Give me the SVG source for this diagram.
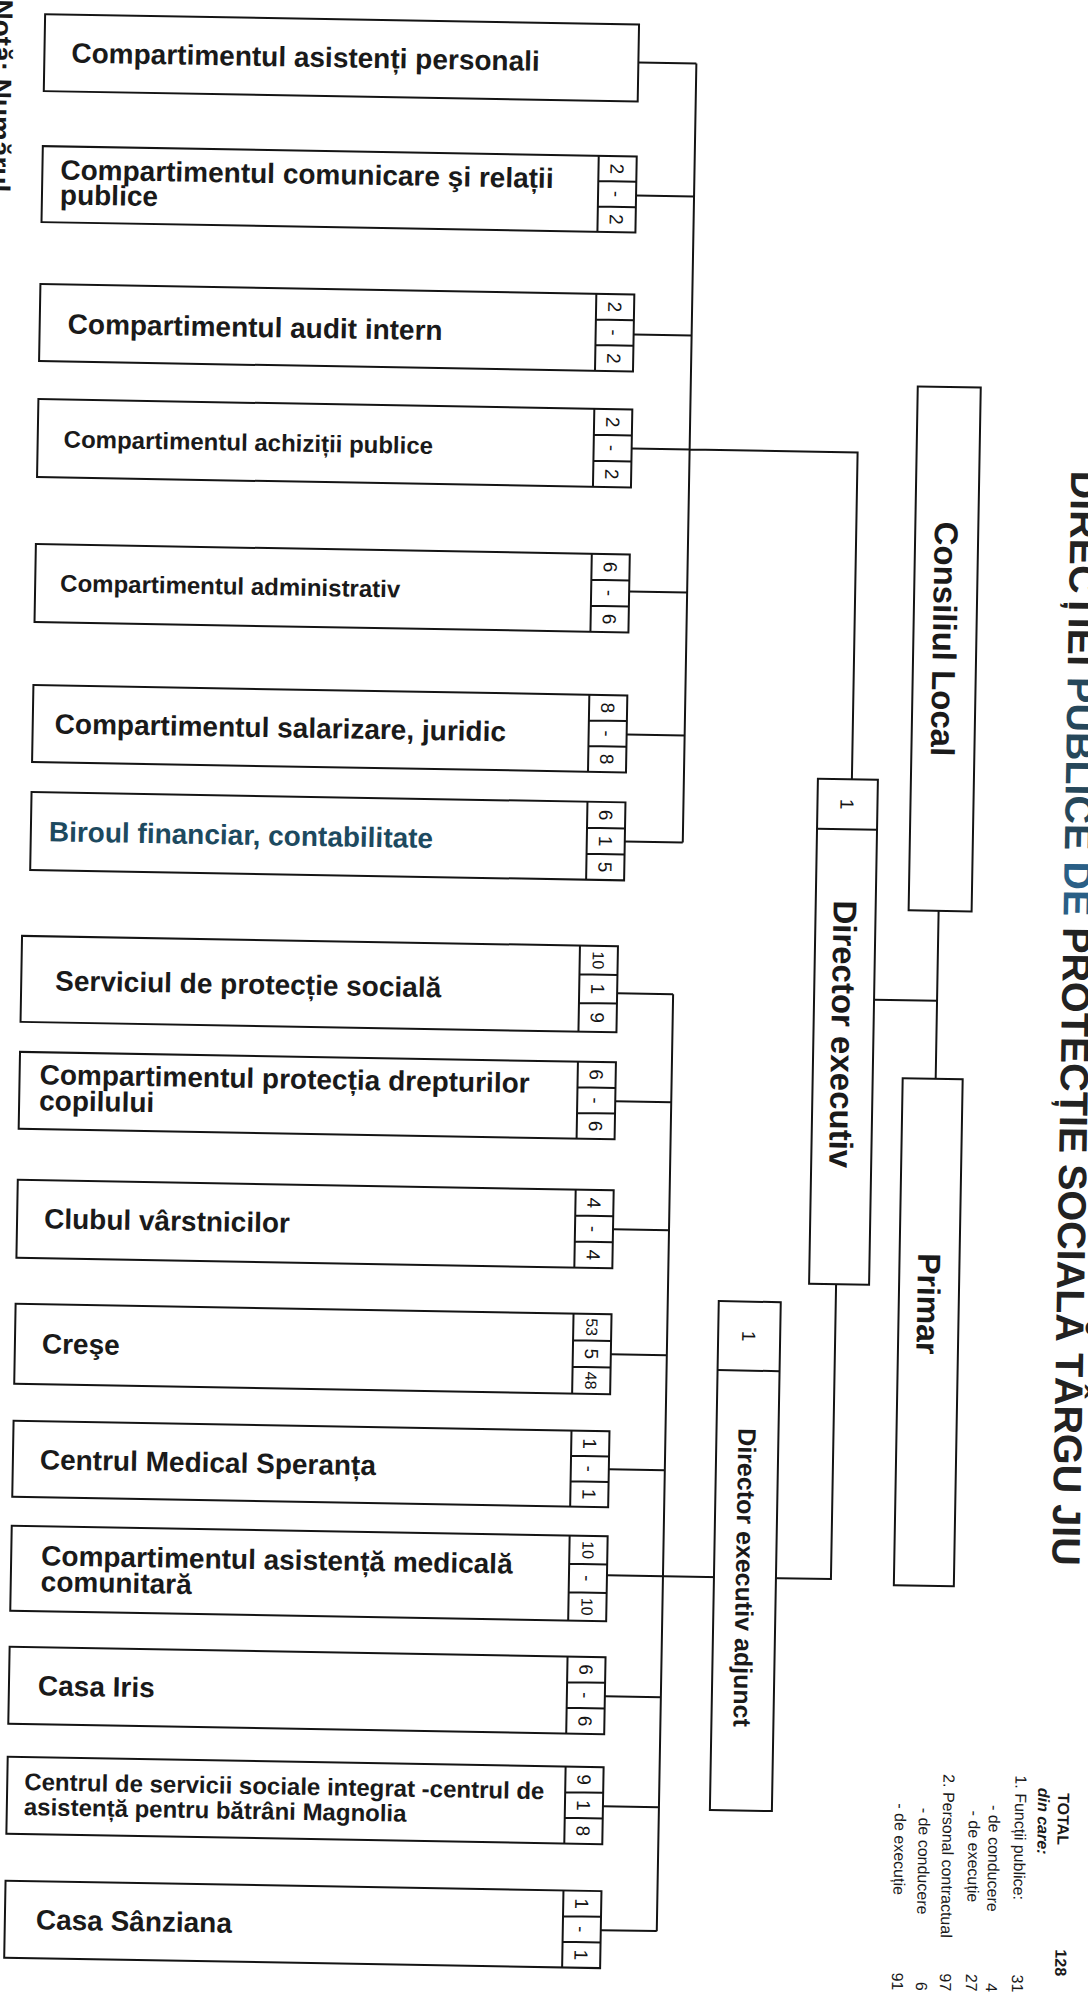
<svg xmlns="http://www.w3.org/2000/svg" width="1088" height="1999" viewBox="0 0 1088 1999">
<style>
.box{fill:#fff;stroke:#141414;stroke-width:2}
.ln{fill:none;stroke:#141414;stroke-width:2}
.lbl{font-family:"Liberation Sans",Arial,sans-serif;font-weight:bold;font-size:28px;fill:#1a1a1a}
.sm{font-size:24px}
.teal{fill:#1d4a5f}
.cnt{font-family:"Liberation Sans",Arial,sans-serif;font-size:19px;fill:#141414;text-anchor:middle}
.c2{font-size:16px}
.vt{font-family:"Liberation Sans",Arial,sans-serif;font-weight:bold;fill:#1a1a1a;text-anchor:middle}
.lg{font-family:"Liberation Sans",Arial,sans-serif;font-size:16px;fill:#1a1a1a}
.num{text-anchor:end}
</style>
<rect width="1088" height="1999" fill="#fff"/>
<g transform="rotate(1 544 1000)">
<text transform="translate(-24,9) rotate(90)" class="lbl">Notă: Numărul</text>
<text transform="translate(1062,1009) rotate(90)" text-anchor="middle" style="font-family:'Liberation Sans',Arial,sans-serif;font-weight:bold;font-size:39.5px;fill:#222">DIRECȚIEI <tspan fill="#26475a">PUBLICE</tspan> <tspan fill="#2a5f86">DE</tspan> PROTECȚIE SOCIALĂ TÂRGU JIU</text>

<g id="connectors">
<path class="ln" d="M622,61H680M622,194H680M622,333H680M622,447H848V774M622,590H680M622,733H680M622,840H680M680,61V840"/>
<path class="ln" d="M617,992H673M617,1100H673M617,1228H673M617,1353H673M617,1468H673M617,1574H841V1279M617,1695H673M617,1805H673M617,1929H673M673,992V1929"/>
<path class="ln" d="M874,994H937M937,904V1072"/>
</g>

<g id="n01" transform="translate(28,23)"><rect class="box" width="594" height="77"/><text class="lbl" x="27" y="48">Compartimentul asistenți personali</text></g>

<g id="n02" transform="translate(28,155)"><rect class="box" width="594" height="76"/><path class="ln" d="M556,0V76M556,25.3H594M556,50.7H594"/><text class="lbl" x="18" y="33">Compartimentul comunicare şi relații</text><text class="lbl" x="18" y="58">publice</text><text class="cnt" transform="translate(575,12.7) rotate(90)" y="7">2</text><text class="cnt" transform="translate(575,38) rotate(90)" y="7">-</text><text class="cnt" transform="translate(575,63.3) rotate(90)" y="7">2</text></g>

<g id="n03" transform="translate(28,293)"><rect class="box" width="594" height="77"/><path class="ln" d="M556,0V77M556,25.7H594M556,51.3H594"/><text class="lbl" x="28" y="49">Compartimentul audit intern</text><text class="cnt" transform="translate(575,12.8) rotate(90)" y="7">2</text><text class="cnt" transform="translate(575,38.5) rotate(90)" y="7">-</text><text class="cnt" transform="translate(575,64.2) rotate(90)" y="7">2</text></g>

<g id="n04" transform="translate(28,408)"><rect class="box" width="594" height="78"/><path class="ln" d="M556,0V78M556,26H594M556,52H594"/><text class="lbl sm" x="26" y="48">Compartimentul achiziții publice</text><text class="cnt" transform="translate(575,13) rotate(90)" y="7">2</text><text class="cnt" transform="translate(575,39) rotate(90)" y="7">-</text><text class="cnt" transform="translate(575,65) rotate(90)" y="7">2</text></g>

<g id="n05" transform="translate(28,553)"><rect class="box" width="594" height="78"/><path class="ln" d="M556,0V78M556,26H594M556,52H594"/><text class="lbl sm" x="25" y="47">Compartimentul administrativ</text><text class="cnt" transform="translate(575,13) rotate(90)" y="7">6</text><text class="cnt" transform="translate(575,39) rotate(90)" y="7">-</text><text class="cnt" transform="translate(575,65) rotate(90)" y="7">6</text></g>

<g id="n06" transform="translate(28,694)"><rect class="box" width="594" height="77"/><path class="ln" d="M556,0V77M556,25.7H594M556,51.3H594"/><text class="lbl" x="22" y="48">Compartimentul salarizare, juridic</text><text class="cnt" transform="translate(575,12.8) rotate(90)" y="7">8</text><text class="cnt" transform="translate(575,38.5) rotate(90)" y="7">-</text><text class="cnt" transform="translate(575,64.2) rotate(90)" y="7">8</text></g>

<g id="n07" transform="translate(28,801)"><rect class="box" width="594" height="78"/><path class="ln" d="M556,0V78M556,26H594M556,52H594"/><text class="lbl teal" x="18" y="49">Biroul financiar, contabilitate</text><text class="cnt" transform="translate(575,13) rotate(90)" y="7">6</text><text class="cnt" transform="translate(575,39) rotate(90)" y="7">1</text><text class="cnt" transform="translate(575,65) rotate(90)" y="7">5</text></g>

<g id="n08" transform="translate(21,945)"><rect class="box" width="596" height="86"/><path class="ln" d="M558,0V86M558,28.7H596M558,57.3H596"/><text class="lbl" x="34" y="54">Serviciul de protecție socială</text><text class="cnt c2" transform="translate(577,14.3) rotate(90)" y="6">10</text><text class="cnt" transform="translate(577,43) rotate(90)" y="7">1</text><text class="cnt" transform="translate(577,71.7) rotate(90)" y="7">9</text></g>

<g id="n09" transform="translate(21,1061)"><rect class="box" width="596" height="77"/><path class="ln" d="M558,0V77M558,25.7H596M558,51.3H596"/><text class="lbl" x="20" y="32">Compartimentul protecția drepturilor</text><text class="lbl" x="20" y="58">copilului</text><text class="cnt" transform="translate(577,12.8) rotate(90)" y="7">6</text><text class="cnt" transform="translate(577,38.5) rotate(90)" y="7">-</text><text class="cnt" transform="translate(577,64.2) rotate(90)" y="7">6</text></g>

<g id="n10" transform="translate(21,1189)"><rect class="box" width="596" height="78"/><path class="ln" d="M558,0V78M558,26H596M558,52H596"/><text class="lbl" x="27" y="48">Clubul vârstnicilor</text><text class="cnt" transform="translate(577,13) rotate(90)" y="7">4</text><text class="cnt" transform="translate(577,39) rotate(90)" y="7">-</text><text class="cnt" transform="translate(577,65) rotate(90)" y="7">4</text></g>

<g id="n11" transform="translate(21,1313)"><rect class="box" width="596" height="80"/><path class="ln" d="M558,0V80M558,26.7H596M558,53.3H596"/><text class="lbl" x="27" y="49">Creşe</text><text class="cnt c2" transform="translate(577,13.3) rotate(90)" y="6">53</text><text class="cnt" transform="translate(577,40) rotate(90)" y="7">5</text><text class="cnt c2" transform="translate(577,66.7) rotate(90)" y="6">48</text></g>

<g id="n12" transform="translate(21,1430)"><rect class="box" width="596" height="76"/><path class="ln" d="M558,0V76M558,25.3H596M558,50.7H596"/><text class="lbl" x="27" y="48">Centrul Medical Speranța</text><text class="cnt" transform="translate(577,12.7) rotate(90)" y="7">1</text><text class="cnt" transform="translate(577,38) rotate(90)" y="7">-</text><text class="cnt" transform="translate(577,63.3) rotate(90)" y="7">1</text></g>

<g id="n13" transform="translate(21,1535)"><rect class="box" width="596" height="85"/><path class="ln" d="M558,0V85M558,28.3H596M558,56.7H596"/><text class="lbl" x="30" y="39">Compartimentul asistență medicală</text><text class="lbl" x="30" y="65">comunitară</text><text class="cnt c2" transform="translate(577,14.2) rotate(90)" y="6">10</text><text class="cnt" transform="translate(577,42.5) rotate(90)" y="7">-</text><text class="cnt c2" transform="translate(577,70.8) rotate(90)" y="6">10</text></g>

<g id="n14" transform="translate(21,1656)"><rect class="box" width="596" height="77"/><path class="ln" d="M558,0V77M558,25.7H596M558,51.3H596"/><text class="lbl" x="29" y="48">Casa Iris</text><text class="cnt" transform="translate(577,12.8) rotate(90)" y="7">6</text><text class="cnt" transform="translate(577,38.5) rotate(90)" y="7">-</text><text class="cnt" transform="translate(577,64.2) rotate(90)" y="7">6</text></g>

<g id="n15" transform="translate(21,1766)"><rect class="box" width="596" height="77"/><path class="ln" d="M558,0V77M558,25.7H596M558,51.3H596"/><text class="lbl sm" x="17" y="33">Centrul de servicii sociale integrat -centrul de</text><text class="lbl sm" x="17" y="58">asistență pentru bătrâni Magnolia</text><text class="cnt" transform="translate(577,12.8) rotate(90)" y="7">9</text><text class="cnt" transform="translate(577,38.5) rotate(90)" y="7">1</text><text class="cnt" transform="translate(577,64.2) rotate(90)" y="7">8</text></g>

<g id="n16" transform="translate(21,1890)"><rect class="box" width="596" height="77"/><path class="ln" d="M558,0V77M558,25.7H596M558,51.3H596"/><text class="lbl" x="31" y="48">Casa Sânziana</text><text class="cnt" transform="translate(577,12.8) rotate(90)" y="7">1</text><text class="cnt" transform="translate(577,38.5) rotate(90)" y="7">-</text><text class="cnt" transform="translate(577,64.2) rotate(90)" y="7">1</text></g>

<g id="consiliul" transform="translate(907,380)"><rect class="box" width="63" height="524"/><text class="vt" transform="translate(31.5,252) rotate(90)" y="12" font-size="33">Consiliul Local</text></g>

<g id="primar" transform="translate(904,1072)"><rect class="box" width="60" height="507"/><text class="vt" transform="translate(30,225) rotate(90)" y="11.5" font-size="32">Primar</text></g>

<g id="director" transform="translate(814,774)"><rect class="box" width="60" height="505"/><path class="ln" d="M0,50H60"/><text class="cnt" transform="translate(30,25) rotate(90)" y="7">1</text><text class="vt" transform="translate(30,255) rotate(90)" y="12" font-size="33" fill="#1d3f50">Director executiv</text></g>

<g id="adjunct" transform="translate(724,1298)"><rect class="box" width="62" height="509"/><path class="ln" d="M0,69H62"/><text class="cnt" transform="translate(31,34.5) rotate(90)" y="7">1</text><text class="vt" transform="translate(31,276) rotate(90)" y="9" font-size="25">Director executiv adjunct</text></g>

<g id="legend">
<text class="lg" transform="translate(1072,1784) rotate(90)" font-weight="bold">TOTAL</text>
<text class="lg" transform="translate(1052,1779) rotate(90)" font-weight="bold" font-style="italic">din care:</text>
<text class="lg" transform="translate(1029,1767) rotate(90)">1. Funcții publice:</text>
<text class="lg" transform="translate(1003,1797) rotate(90)">- de conducere</text>
<text class="lg" transform="translate(983,1803) rotate(90)">- de execuție</text>
<text class="lg" transform="translate(957,1767) rotate(90)">2. Personal contractual</text>
<text class="lg" transform="translate(933,1801) rotate(90)">- de conducere</text>
<text class="lg" transform="translate(909,1797) rotate(90)">- de execuție</text>
<text class="lg num" transform="translate(1072,1967) rotate(90)" font-weight="bold">128</text>
<text class="lg num" transform="translate(1029,1984) rotate(90)">31</text>
<text class="lg num" transform="translate(1003,1984) rotate(90)">4</text>
<text class="lg num" transform="translate(983,1984) rotate(90)">27</text>
<text class="lg num" transform="translate(957,1984) rotate(90)">97</text>
<text class="lg num" transform="translate(933,1984) rotate(90)">6</text>
<text class="lg num" transform="translate(909,1984) rotate(90)">91</text>
</g>
</g>
</svg>
